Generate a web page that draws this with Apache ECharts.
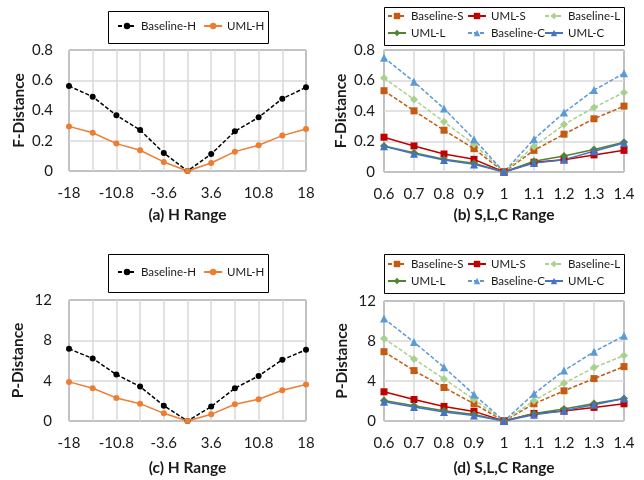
<!DOCTYPE html>
<html>
<head>
<meta charset="utf-8">
<script src="https://cdn.jsdelivr.net/npm/echarts@6/dist/echarts.min.js"></script>
<style>
  html, body { margin: 0; padding: 0; background: #fff; }
  #main { width: 644px; height: 480px; }
</style>
</head>
<body>
<div id="main"></div>
<script>
// categories
var hCategories = ['-18', '-14.4', '-10.8', '-7.2', '-3.6', '0', '3.6', '7.2', '10.8', '14.4', '18'];
var slcCategories = ['0.6', '0.7', '0.8', '0.9', '1', '1.1', '1.2', '1.3', '1.4'];

// (a) F-Distance, H range
var fBaselineH = [0.562, 0.491, 0.368, 0.271, 0.119, 0, 0.112, 0.262, 0.355, 0.478, 0.553];
var fUmlH = [0.295, 0.253, 0.181, 0.137, 0.060, 0, 0.053, 0.128, 0.170, 0.234, 0.278];

// (c) P-Distance, H range
var pBaselineH = [7.16, 6.20, 4.61, 3.41, 1.52, 0, 1.43, 3.25, 4.47, 6.07, 7.06];
var pUmlH = [3.88, 3.25, 2.29, 1.72, 0.76, 0, 0.66, 1.66, 2.15, 3.05, 3.61];

// (b) F-Distance, S,L,C range
var fBaselineS = [0.533, 0.401, 0.274, 0.153, 0, 0.142, 0.248, 0.349, 0.432];
var fUmlS = [0.228, 0.171, 0.118, 0.083, 0, 0.064, 0.081, 0.112, 0.142];
var fBaselineL = [0.616, 0.476, 0.329, 0.182, 0, 0.167, 0.311, 0.423, 0.522];
var fUmlL = [0.171, 0.127, 0.083, 0.057, 0, 0.070, 0.105, 0.147, 0.195];
var fBaselineC = [0.750, 0.592, 0.416, 0.215, 0, 0.215, 0.390, 0.537, 0.647];
var fUmlC = [0.169, 0.120, 0.079, 0.050, 0, 0.059, 0.081, 0.136, 0.190];

// (d) P-Distance, S,L,C range
var pBaselineS = [6.93, 5.04, 3.35, 1.72, 0, 1.72, 3.02, 4.24, 5.44];
var pUmlS = [2.92, 2.15, 1.46, 0.96, 0, 0.76, 0.99, 1.36, 1.72];
var pBaselineL = [8.25, 6.20, 4.21, 2.15, 0, 2.02, 3.78, 5.34, 6.56];
var pUmlL = [2.05, 1.52, 1.03, 0.66, 0, 0.76, 1.19, 1.76, 2.25];
var pBaselineC = [10.24, 7.89, 5.37, 2.65, 0, 2.72, 5.04, 6.93, 8.52];
var pUmlC = [1.92, 1.39, 0.90, 0.56, 0, 0.63, 1.03, 1.62, 2.25];

var fontName = 'Lato';
var textColor = '#1a1a1a';

var chart = echarts.init(document.getElementById('main'));

// series look
var styles = {
  'Baseline-H': { color: '#000000', symbol: 'circle', size: 6, dashed: true },
  'UML-H': { color: '#ED7D31', symbol: 'circle', size: 6, dashed: false },
  'Baseline-S': { color: '#C55A11', symbol: 'rect', size: 7, dashed: true },
  'UML-S': { color: '#C00000', symbol: 'rect', size: 7, dashed: false },
  'Baseline-L': { color: '#A9D18E', symbol: 'diamond', size: 8, dashed: true },
  'UML-L': { color: '#548235', symbol: 'diamond', size: 8, dashed: false },
  'Baseline-C': { color: '#5B9BD5', symbol: 'triangle', size: 8, dashed: true },
  'UML-C': { color: '#4472C4', symbol: 'triangle', size: 8, dashed: false }
};

function mkSeries(name, data, idx) {
  var s = styles[name];
  return {
    name: name,
    type: 'line',
    xAxisIndex: idx,
    yAxisIndex: idx,
    data: data,
    symbol: s.symbol,
    symbolSize: s.size,
    showAllSymbol: true,
    itemStyle: { color: s.color },
    lineStyle: { color: s.color, width: 1.5, type: s.dashed ? [4, 2] : 'solid' },
    animation: false
  };
}

function mkX(idx, cats, title, labelInterval, nameGap) {
  return {
    type: 'category',
    gridIndex: idx,
    data: cats,
    boundaryGap: false,
    axisLine: { show: false },
    axisTick: { show: false },
    axisLabel: { interval: labelInterval, margin: 15, fontSize: 15, color: textColor, fontFamily: fontName },
    splitLine: { show: true, interval: 0, lineStyle: { color: '#d9d9d9', width: 1.5 } },
    name: title,
    nameLocation: 'middle',
    nameGap: nameGap,
    nameTextStyle: { fontSize: 15.5, fontWeight: 'bold', color: textColor, fontFamily: fontName }
  };
}

function mkY(idx, max, interval, title, margin) {
  return {
    type: 'value',
    gridIndex: idx,
    min: 0,
    max: max,
    interval: interval,
    axisLine: { show: false },
    axisTick: { show: false },
    axisLabel: { margin: margin, fontSize: 15, color: textColor, fontFamily: fontName },
    splitLine: { show: true, lineStyle: { color: '#d9d9d9', width: 1.5 } },
    name: title,
    nameLocation: 'middle',
    nameGap: margin + 26,
    nameRotate: 90,
    nameTextStyle: { fontSize: 15.5, fontWeight: 'bold', color: textColor, fontFamily: fontName }
  };
}

function mkLegend(names, left, top, orient) {
  return {
    data: names,
    left: left,
    top: top,
    orient: orient,
    padding: 0,
    itemGap: orient === 'vertical' ? 5 : 7,
    itemWidth: 18,
    itemHeight: 8,
    textStyle: { fontSize: 11.5, color: textColor, fontFamily: fontName }
  };
}

function box(x, y, w, h) {
  return {
    type: 'rect',
    shape: { x: x, y: y, width: w, height: h },
    style: { fill: 'none', stroke: '#000', lineWidth: 1 },
    silent: true
  };
}

var gridStyle = { show: true, borderColor: '#000', borderWidth: 1, backgroundColor: 'transparent' };

var option = {
  animation: false,
  textStyle: { fontFamily: fontName },
  grid: [
    Object.assign({ left: 69, top: 50, width: 237, height: 121 }, gridStyle),
    Object.assign({ left: 384, top: 50, width: 240, height: 122 }, gridStyle),
    Object.assign({ left: 69, top: 300, width: 237, height: 121 }, gridStyle),
    Object.assign({ left: 384, top: 301, width: 240, height: 120 }, gridStyle)
  ],
  xAxis: [
    mkX(0, hCategories, '(a) H Range', 1, 36),
    mkX(1, slcCategories, '(b) S,L,C Range', 0, 35),
    mkX(2, hCategories, '(c) H Range', 1, 39),
    mkX(3, slcCategories, '(d) S,L,C Range', 0, 39)
  ],
  yAxis: [
    mkY(0, 0.8, 0.2, 'F-Distance', 16),
    mkY(1, 0.8, 0.2, 'F-Distance', 9),
    mkY(2, 12, 4, 'P-Distance', 17),
    mkY(3, 12, 4, 'P-Distance', 8)
  ],
  legend: [
    mkLegend(['Baseline-H', 'UML-H'], 117, 20, 'horizontal'),
    mkLegend(['Baseline-H', 'UML-H'], 117, 266, 'horizontal'),
    mkLegend(['Baseline-S', 'UML-L'], 387, 10, 'vertical'),
    mkLegend(['UML-S', 'Baseline-C'], 467, 10, 'vertical'),
    mkLegend(['Baseline-L', 'UML-C'], 544, 10, 'vertical'),
    mkLegend(['Baseline-S', 'UML-L'], 387, 258, 'vertical'),
    mkLegend(['UML-S', 'Baseline-C'], 467, 258, 'vertical'),
    mkLegend(['Baseline-L', 'UML-C'], 544, 258, 'vertical')
  ],
  graphic: [
    box(108.5, 11.5, 160, 32),
    box(108.5, 254.5, 160, 38),
    box(384.5, 7.5, 240, 38),
    box(384.5, 254.5, 240, 39)
  ],
  series: [
    mkSeries('Baseline-H', fBaselineH, 0),
    mkSeries('UML-H', fUmlH, 0),
    mkSeries('Baseline-S', fBaselineS, 1),
    mkSeries('UML-S', fUmlS, 1),
    mkSeries('Baseline-L', fBaselineL, 1),
    mkSeries('UML-L', fUmlL, 1),
    mkSeries('Baseline-C', fBaselineC, 1),
    mkSeries('UML-C', fUmlC, 1),
    mkSeries('Baseline-H', pBaselineH, 2),
    mkSeries('UML-H', pUmlH, 2),
    mkSeries('Baseline-S', pBaselineS, 3),
    mkSeries('UML-S', pUmlS, 3),
    mkSeries('Baseline-L', pBaselineL, 3),
    mkSeries('UML-L', pUmlL, 3),
    mkSeries('Baseline-C', pBaselineC, 3),
    mkSeries('UML-C', pUmlC, 3)
  ]
};

chart.setOption(option);
</script>
</body>
</html>
